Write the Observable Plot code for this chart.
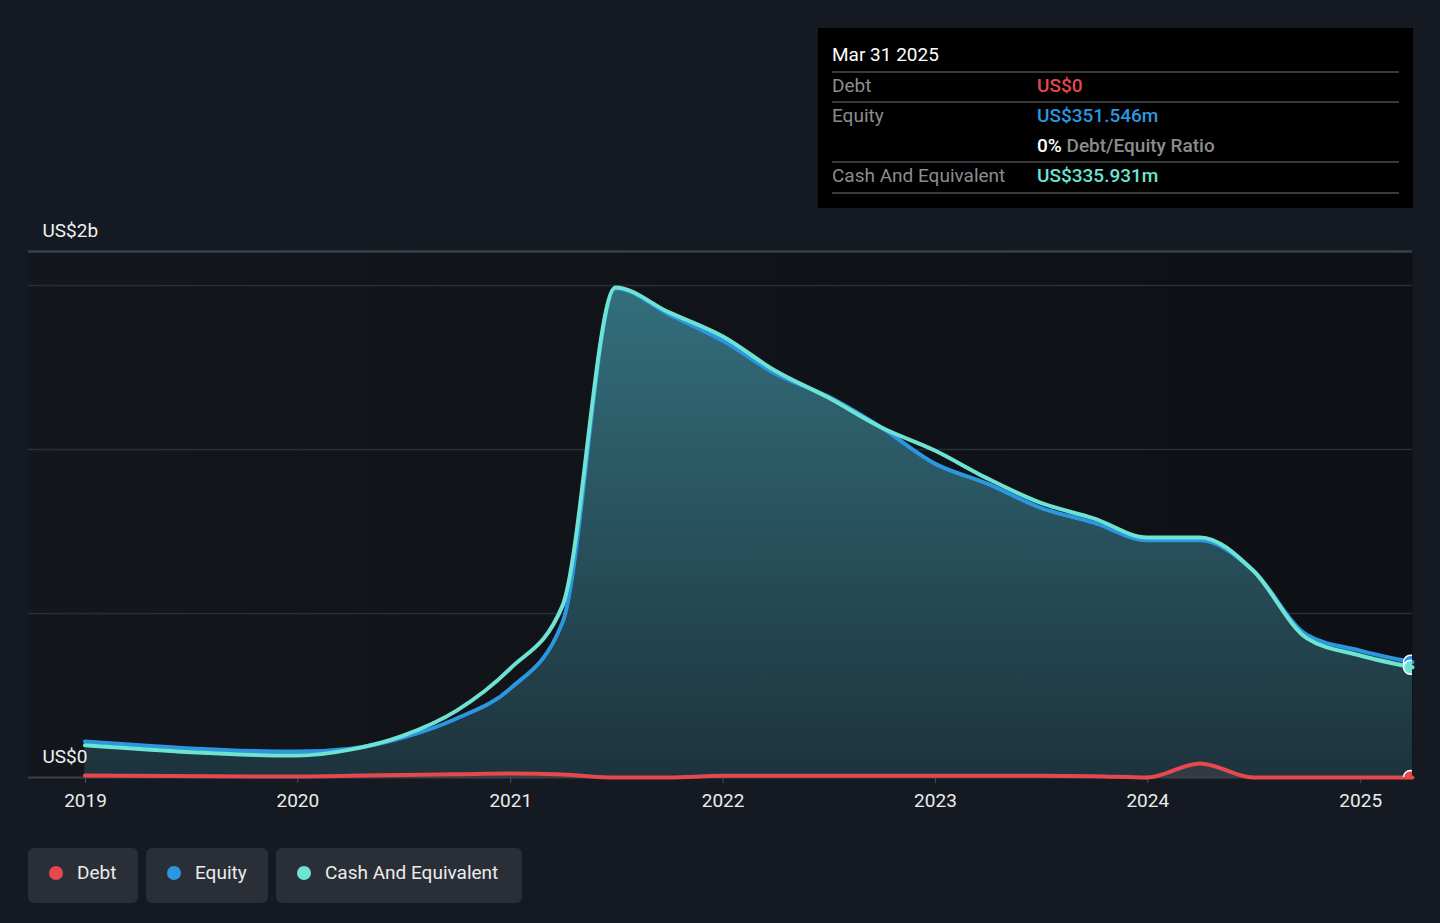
<!DOCTYPE html>
<html>
<head>
<meta charset="utf-8">
<script src="https://cdn.jsdelivr.net/npm/d3@7"></script>
<script src="https://cdn.jsdelivr.net/npm/@observablehq/plot@0.6"></script>
<style>
  html, body { margin: 0; padding: 0; }
  body { width: 1440px; height: 923px; background: #151a22; font-family: Roboto, "Noto Sans", sans-serif; overflow: hidden; position: relative; }
  #chart { position: absolute; left: 0; top: 200px; }
  .tip { position: absolute; left: 818px; top: 28px; width: 595px; height: 180px; background: #000; }
  .tip div { position: absolute; font-size: 19px; line-height: 20px; white-space: nowrap; }
  .tip .hr { left: 14px; width: 567px; height: 0; border-top: 2px solid #3a3a3a; }
  .lab { left: 14px; color: #8c8c8c; }
  .val { left: 219px; font-weight: 500; }
  .legend { position: absolute; top: 848px; height: 55px; background: #2a2f37; border-radius: 6px; color: #ececec; font-size: 19px; }
  .legend span.dot { position: absolute; top: 18px; left: 21px; width: 14px; height: 14px; border-radius: 50%; }
  .legend span.t { position: absolute; left: 49px; top: -3px; line-height: 55px; white-space: nowrap; }
</style>
</head>
<body>
<div class="tip">
  <div style="left:14px; top:17px; color:#fff;">Mar 31 2025</div>
  <div class="hr" style="top:43px"></div>
  <div class="lab" style="top:48px">Debt</div>
  <div class="val" style="top:48px; color:#e5484d">US$0</div>
  <div class="hr" style="top:73px"></div>
  <div class="lab" style="top:78px">Equity</div>
  <div class="val" style="top:78px; color:#2b97e0">US$351.546m</div>
  <div class="val" style="top:108px; color:#8c8c8c"><span style="color:#fff">0%</span> Debt/Equity Ratio</div>
  <div class="hr" style="top:133px"></div>
  <div class="lab" style="top:138px">Cash And Equivalent</div>
  <div class="val" style="top:138px; color:#6ee3d3">US$335.931m</div>
  <div class="hr" style="top:164px"></div>
</div>
<div id="chart"></div>
<div class="legend" style="left:28px; width:110px;"><span class="dot" style="background:#e5484d"></span><span class="t">Debt</span></div>
<div class="legend" style="left:146px; width:122px;"><span class="dot" style="background:#2b97e0"></span><span class="t">Equity</span></div>
<div class="legend" style="left:276px; width:246px;"><span class="dot" style="background:#6ee3d3"></span><span class="t">Cash And Equivalent</span></div>
<script>
// ---- data (US$ millions) ----
const dates = ["2018-12-31","2019-12-31","2020-03-31","2020-06-30","2020-09-30","2020-12-31",
  "2021-03-31","2021-06-30","2021-09-30","2021-12-31","2022-03-31","2022-06-30","2022-09-30","2022-12-31",
  "2023-03-31","2023-06-30","2023-09-30","2023-12-31","2024-03-31","2024-06-30","2024-09-30","2024-12-31","2025-03-31"];
const cash   = [98, 67, 85, 128, 204, 332, 524, 1494, 1418, 1345, 1241, 1159, 1067, 997, 912, 838, 790, 732, 732, 631, 425, 372, 335.931];
const equity = [110, 79, 88, 122, 180, 271, 473, 1492, 1412, 1332, 1232, 1162, 1067, 957, 896, 823, 777, 723, 723, 631, 435, 387, 351.546];
const debt   = [6, 3, 5, 8, 10, 12, 9, 0, 0, 5, 5, 5, 5, 5, 5, 5, 4, 0, 43, 0, 0, 0, 0];
const yearTicks = ["2019","2020","2021","2022","2023","2024","2025"];
const gridValues = [500, 1000, 1500];
const yTop = 1603.7;
const yLabelText = ["US$0", "US$2b"];
const yLabelValue = [0, yTop];
const xStart = "2018-09-25", xEnd = "2025-03-31";

const colors = {debt: "#e5484d", equity: "#2b97e0", cash: "#6ee3d3"};

const data = dates.map((d, i) => ({date: new Date(d), cash: cash[i], equity: equity[i], debt: debt[i]}));
const last = [data[data.length - 1]];
const yLabels = yLabelText.map((t, i) => ({t, v: yLabelValue[i], date: new Date(xStart)}));

const svg = Plot.plot({
  width: 1440, height: 630,
  marginTop: 51, marginBottom: 53, marginLeft: 28, marginRight: 28,
  style: {background: "transparent", fontFamily: "Roboto, sans-serif", color: "#e8e8e8"},
  x: {type: "utc", domain: [new Date(xStart), new Date(xEnd)]},
  y: {domain: [0, yTop], axis: null},
  marks: [
    Plot.frame({fill: "url(#plotbg)", stroke: null}),
    Plot.ruleY(gridValues, {stroke: "#2a2f36", strokeWidth: 1.5}),
    Plot.ruleY([yTop], {stroke: "#3b4048", strokeWidth: 2.5}),
    Plot.areaY(data, {x: "date", y: "equity", curve: "monotone-x", fill: "url(#areaGrad)"}),
    Plot.areaY(data, {x: "date", y: "debt", curve: "monotone-x", fill: "#3b3e46", fillOpacity: 0.7}),
    Plot.ruleY([0], {stroke: "#3b4048", strokeWidth: 2}),
    Plot.axisX({ticks: yearTicks.map(y => new Date(y + "-01-01")), tickFormat: "%Y", tickSize: 6, tickPadding: 10,
      stroke: "#4a4f57", fill: "#ececec", fontSize: 19, label: null}),
    Plot.lineY(data, {x: "date", y: "debt", curve: "monotone-x", stroke: colors.debt, strokeWidth: 4}),
    Plot.lineY(data, {x: "date", y: "equity", curve: "monotone-x", stroke: colors.equity, strokeWidth: 4}),
    Plot.lineY(data, {x: "date", y: "cash", curve: "monotone-x", stroke: colors.cash, strokeWidth: 4}),
    Plot.dot(last, {x: "date", y: "debt", r: 7, dx: -2, fill: colors.debt, stroke: "#fff", strokeWidth: 1.5, clip: true}),
    Plot.dot(last, {x: "date", y: "equity", r: 7, dx: -2, fill: colors.equity, stroke: "#fff", strokeWidth: 1.5, clip: true}),
    Plot.dot(last, {x: "date", y: "cash", r: 7, dx: -2, fill: colors.cash, stroke: "#fff", strokeWidth: 1.5, clip: true}),
    Plot.text(yLabels, {x: "date", y: "v", text: "t", dx: 14, dy: -21, textAnchor: "start", fill: "#f0f0f0", fontSize: 19})
  ]
});

const defs = d3.select(svg).insert("defs", ":first-child");
const g1 = defs.append("linearGradient").attr("id", "areaGrad").attr("gradientUnits", "userSpaceOnUse")
  .attr("x1", 0).attr("x2", 0).attr("y1", 85).attr("y2", 577);
g1.append("stop").attr("offset", "0%").attr("stop-color", "#336f7c");
g1.append("stop").attr("offset", "100%").attr("stop-color", "#1d333d");
const g2 = defs.append("linearGradient").attr("id", "plotbg").attr("x1", 0).attr("x2", 1).attr("y1", 0).attr("y2", 0);
g2.append("stop").attr("offset", "0%").attr("stop-color", "#13171d");
g2.append("stop").attr("offset", "100%").attr("stop-color", "#0d1014");

document.getElementById("chart").appendChild(svg);
</script>
</body>
</html>
